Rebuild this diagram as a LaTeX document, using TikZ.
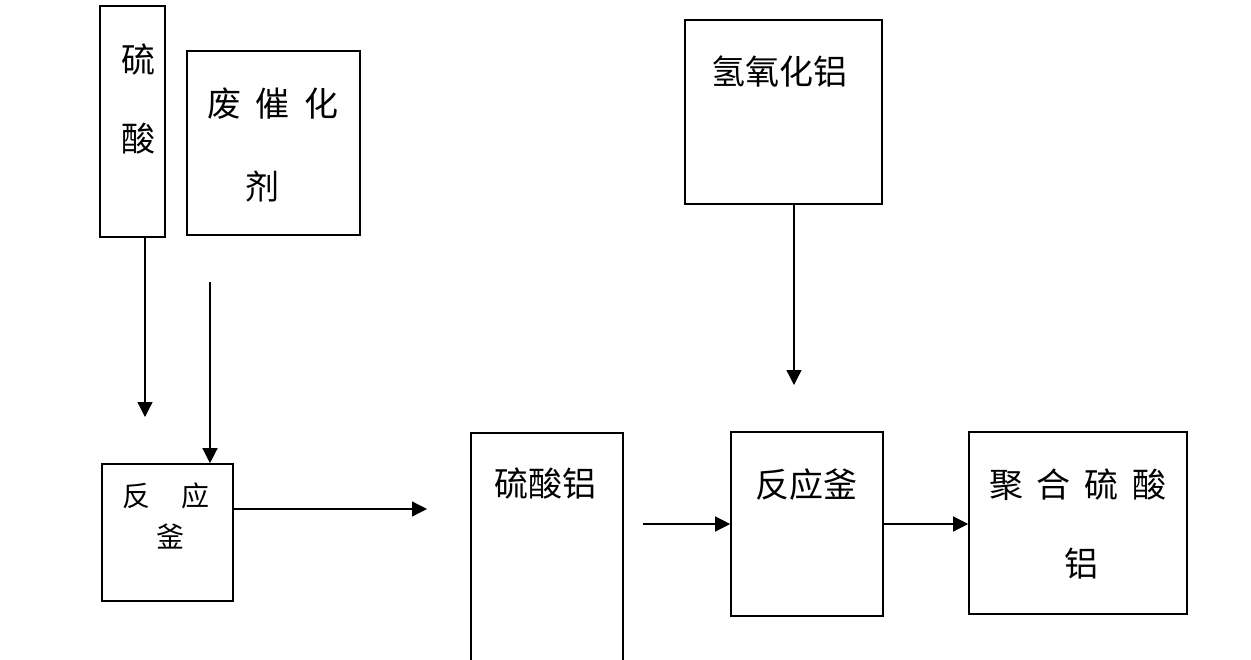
\documentclass[tikz,border=0pt]{standalone}
\usepackage{fontspec}
\newfontfamily\cjk{Noto Sans CJK SC}
\usepackage{tikz}
\usepackage{tkz-euclide}
\usetikzlibrary{calc}
\usetikzlibrary{arrows.meta}

\tikzset{
    stage/.style={draw,line width=1.6pt,inner sep=0pt},
    flow/.style={line width=1.3pt,-{Triangle[length=15pt,width=15pt]}},
    txt/.style={inner sep=0pt,font=\cjk\fontsize{34}{40}\selectfont},
    smalltxt/.style={inner sep=0pt,font=\cjk\fontsize{28}{34}\selectfont}
}

\begin{document}
\begin{tikzpicture}[x=1pt,y=-1pt]
                \useasboundingbox (0,0) rectangle (1251,659);
                \clip (0,0) rectangle (1251,659);

                \node[stage,minimum width=65pt,minimum height=231pt] (acid) at (132.5,121.5) {};
                \node[stage,minimum width=173pt,minimum height=184pt] (waste) at (273.5,143) {};
                \node[stage,minimum width=131pt,minimum height=137pt] (reactA) at (167.5,532.5) {};
                \node[stage,minimum width=152pt,minimum height=260pt] (sulfate) at (547,563) {};
                \node[stage,minimum width=152pt,minimum height=184pt] (reactB) at (807,524) {};
                \node[stage,minimum width=197pt,minimum height=184pt] (hydrox) at (783.5,112) {};
                \node[stage,minimum width=218pt,minimum height=182pt] (poly) at (1078,523) {};

                \node[txt] (acid1) at (138,59) {硫};
                \node[txt] (acid2) at (138,139) {酸};
                \node[txt] (waste1) at (273,104) {废\hspace{15pt}催\hspace{15pt}化};
                \node[txt] (waste2) at (262,186) {剂};
                \node[smalltxt] (reactA1) at (166,496) {反\hspace{31pt}应};
                \node[smalltxt] (reactA2) at (170,536) {釜};
                \node[txt] (sulfate1) at (545,484) {硫酸铝};
                \node[txt] (reactB1) at (806,485) {反应釜};
                \node[txt] (hydrox1) at (779,72) {氢氧化铝};
                \node[txt] (poly1) at (1078,485) {聚\hspace{14pt}合\hspace{14pt}硫\hspace{14pt}酸};
                \node[txt] (poly2) at (1081,564) {铝};

                \tkzDefPoint(145,417){A1}
                \tkzDefPoint(210,282){C0}
                \tkzDefPoint(427,509){D1}
                \tkzDefPoint(643,524){E0}
                \tkzDefPoint(794,385){B1}

                \draw[flow] (acid.south -| A1) -- (A1);
                \draw[flow] (C0) -- (C0 |- reactA.north);
                \draw[flow] (reactA.east |- D1) -- (D1);
                \draw[flow] (E0) -- (E0 -| reactB.west);
                \draw[flow] (hydrox.south -| B1) -- (B1);
                \draw[flow] (reactB.east |- E0) -- (poly.west |- E0);
            \end{tikzpicture}
\end{document}
